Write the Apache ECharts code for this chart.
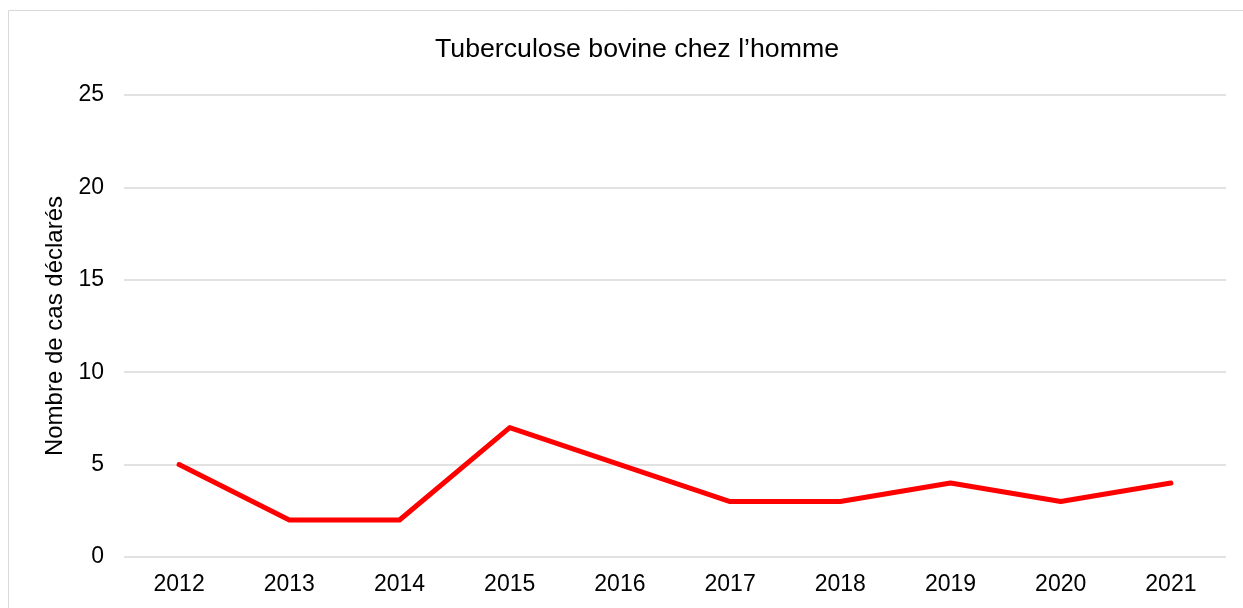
<!DOCTYPE html>
<html>
<head>
<meta charset="utf-8">
<script src="https://cdn.jsdelivr.net/npm/echarts@6/dist/echarts.min.js"></script>
<style>
  html, body { margin: 0; padding: 0; background: #fff; }
  #chart { width: 1243px; height: 608px; }
</style>
</head>
<body>
<div id="chart"></div>
<script>
  // données
  var years = ['2012', '2013', '2014', '2015', '2016', '2017', '2018', '2019', '2020', '2021'];
  var cases = [5, 2, 2, 7, 5, 3, 3, 4, 3, 4];
  var yTicks = [0, 5, 10, 15, 20, 25];

  var font = 'Liberation Sans, Arial, sans-serif';
  var myChart = echarts.init(document.getElementById('chart'));

  myChart.setOption({
    backgroundColor: '#fff',
    animation: false,
    graphic: [{
      type: 'rect',
      shape: { x: 8.5, y: 10.5, width: 1260, height: 640 },
      style: { fill: 'none', stroke: '#d9d9d9', lineWidth: 1 },
      silent: true
    }],
    title: {
      text: 'Tuberculose bovine chez l\u2019homme',
      left: 430,
      top: 31,
      textStyle: { fontFamily: font, fontSize: 26.7, fontWeight: 'normal', color: '#000' }
    },
    grid: { left: 124, right: 17, top: 95, bottom: 51 },
    xAxis: {
      type: 'category',
      data: years,
      boundaryGap: true,
      axisLine: { show: false },
      axisTick: { show: false },
      axisLabel: { fontFamily: font, fontSize: 23, color: '#000', margin: 16 }
    },
    yAxis: {
      type: 'value',
      min: yTicks[0],
      max: yTicks[yTicks.length - 1],
      interval: 5,
      name: 'Nombre de cas déclarés',
      nameLocation: 'middle',
      nameGap: 56,
      nameTextStyle: { fontFamily: font, fontSize: 24, color: '#000' },
      axisLine: { show: false },
      axisTick: { show: false },
      axisLabel: { fontFamily: font, fontSize: 23, color: '#000', margin: 20 },
      splitLine: { lineStyle: { color: '#d9d9d9', width: 1.5 } }
    },
    series: [{
      type: 'line',
      data: cases,
      showSymbol: false,
      symbol: 'none',
      lineStyle: { color: '#ff0000', width: 5, cap: 'round', join: 'round' },
      itemStyle: { color: '#ff0000' }
    }]
  });
</script>
</body>
</html>
